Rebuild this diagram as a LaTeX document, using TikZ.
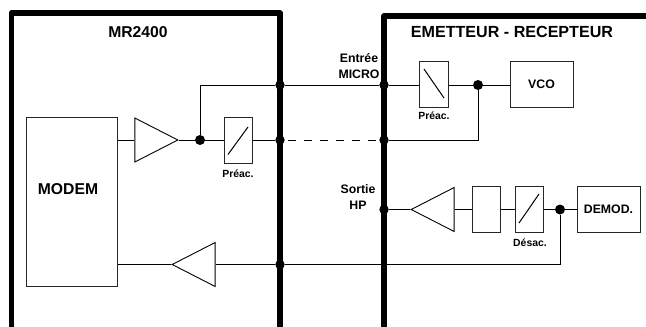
\documentclass[tikz,border=0pt]{standalone}
\usepackage{fontspec}
\setmainfont{Liberation Sans}
\usetikzlibrary{shapes.geometric}
\newcommand{\fs}[1]{\fontsize{#1}{#1}\selectfont\bfseries}
\tikzset{
  frameline/.style={line width=5.4pt,line join=round,line cap=butt},
  wire/.style={line width=1pt,draw=black},
  boxw/.style={draw=black!85,line width=1pt,rectangle,inner sep=0pt,minimum width=#1,minimum height=46pt},
  dotl/.style={circle,fill=black,inner sep=0pt,minimum size=10pt},
  dots/.style={circle,fill=black,inner sep=0pt,minimum size=9.4pt},
  triang/.style={isosceles triangle,isosceles triangle stretches,draw=black,line width=0.9pt,inner sep=0pt,
    minimum height=43pt,minimum width=44pt,anchor=apex},
  bigt/.style={font=\fs{15.7},inner sep=0pt},
  midt/.style={font=\fs{12.3},inner sep=0pt,align=center},
  smallt/.style={font=\fs{10.4},inner sep=0pt},
}
\begin{document}
\begin{tikzpicture}[x=1pt,y=-1pt]
\useasboundingbox (0,0) rectangle (646,327);
% frames
\coordinate (fa) at (11.3,327); \coordinate (fb) at (11.3,13); \coordinate (fc) at (280,13); \coordinate (fd) at (280,327);
\coordinate (ga) at (384,327); \coordinate (gb) at (384,16); \coordinate (gc) at (646,16);
\draw[frameline] (fa) -- (fb) -- (fc) -- (fd);
\draw[frameline] (ga) -- (gb) -- (gc);
% left side blocks
\node[boxw=91pt,minimum height=169pt] (modem) at (71.5,201.5) {};
\node[bigt] (modemt) at (68,189) {MODEM};
\node[triang,shape border rotate=0] (ampA) at (179,140) {};
\node[dotl] (dA) at (200,140) {};
\node[boxw=28pt] (preA) at (238,140) {};
\draw[wire] (228,154.5) coordinate (preAa) -- (248,127) coordinate (preAb);
\node[smallt] (preAt) at (238,174) {Préac.};
\node[triang,shape border rotate=180] (ampB) at (171,264.5) {};
% junctions on frames
\node[dots] (j1) at (280,85) {};
\node[dots] (j2) at (280,140) {};
\node[dots] (j3) at (280,264.5) {};
\node[dots] (k1) at (384,85) {};
\node[dots] (k2) at (384,140) {};
\node[dots] (k3) at (384,209.5) {};
% right side blocks
\node[boxw=28.5pt] (preB) at (434,84.5) {};
\draw[wire] (424,69) coordinate (preBa) -- (444,98) coordinate (preBb);
\node[smallt] (preBt) at (434,116) {Préac.};
\node[dotl] (dB) at (478,85) {};
\node[boxw=63pt,font=\fs{12.3}] (vco) at (541.5,84.5) {VCO};
\node[triang,shape border rotate=180] (ampC) at (410,209.5) {};
\node[boxw=28.5pt] (fil) at (486.25,209) {};
\node[boxw=28.5pt] (des) at (529.25,209) {};
\draw[wire] (519,223) coordinate (desa) -- (539,194) coordinate (desb);
\node[smallt] (dest) at (530,243) {Désac.};
\node[dotl] (dC) at (560,209.5) {};
\node[boxw=63pt,font=\fs{12.3}] (dem) at (608.5,209) {DEMOD.};
% texts
\node[bigt] (tA) at (138,32) {MR2400};
\node[bigt,font=\fs{16.1}] (tB) at (512,32) {EMETTEUR - RECEPTEUR};
\node[midt] (tC) at (359,66) {Entrée\\[3.5pt]MICRO};
\node[midt] (tD) at (358,197) {Sortie\\[3.5pt]HP};
% connectors
\coordinate (mA) at (modem.east |- dA);
\coordinate (mB) at (modem.east |- j3);
\draw[wire] (mA) -- (ampA.lower side);
\draw[wire] (ampA.apex) -- (dA) -- (preA.west |- dA);
\draw[wire] (preA.east |- dA) -- (j2);
\draw[wire,dash pattern=on 8.5pt off 7.5pt,dash phase=-3pt] (j2) -- (k2);
\draw[wire] (dA) |- (j1) -- (k1) -- (preB.west |- k1);
\draw[wire] (preB.east |- k1) -- (dB) -- (vco.west |- dB);
\draw[wire] (dB) |- (k2);
\draw[wire] (k3) -- (ampC.apex);
\draw[wire] (ampC.lower side) -- (fil.west |- k3);
\draw[wire] (fil.east |- k3) -- (des.west |- k3);
\draw[wire] (des.east |- k3) -- (dC) -- (dem.west |- dC);
\draw[wire] (dC) |- (j3) -- (ampB.lower side);
\draw[wire] (ampB.apex) -- (mB);
\end{tikzpicture}
\end{document}
